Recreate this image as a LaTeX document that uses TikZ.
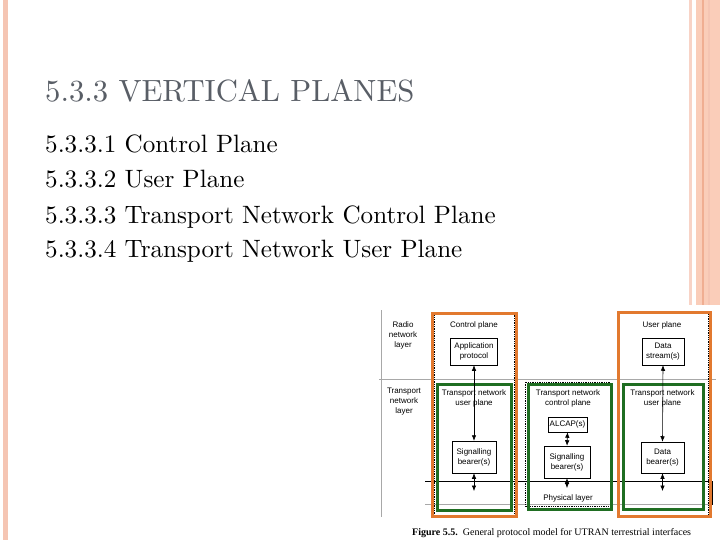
\documentclass[tikz,border=0pt]{standalone}
\usepackage{fontspec}
\newfontfamily\diagf{Liberation Sans}
\newfontfamily\capf{Liberation Serif}
\usetikzlibrary{arrows.meta}
\definecolor{pinkbar}{HTML}{F5C5B3}
\definecolor{pinklight}{HTML}{F8D3C6}
\definecolor{pinkmid}{HTML}{FACDB9}
\definecolor{pinkdark}{HTML}{F0AE92}
\definecolor{titlegray}{HTML}{595E66}
\definecolor{orangeb}{HTML}{E2792F}
\definecolor{greenb}{HTML}{1F6E22}
\definecolor{layergray}{HTML}{A8A8A8}
\newcommand{\bigtext}[2]{\scalebox{#1}{\fontsize{10}{12}\selectfont #2}}
\tikzset{
  dtext/.style={font=\diagf\fontsize{8}{10}\selectfont, align=center, inner sep=0pt},
  dbox/.style={dtext, draw=black, line width=0.5pt},
  dashbox/.style={draw=black, line width=0.6pt, dash pattern=on 1.3pt off 1pt},
  obox/.style={draw=orangeb, line width=3pt},
  gbox/.style={draw=greenb, line width=3pt},
  dbl/.style={line width=0.6pt, {Latex[length=5.5pt,width=4.5pt]}-{Latex[length=5.5pt,width=4.5pt]}},
  layerline/.style={draw=layergray, line width=0.6pt},
  slidetext/.style={anchor=base west, inner sep=0pt}
}
\begin{document}
\begin{tikzpicture}[x=1pt,y=-1pt]
\useasboundingbox (0,0) rectangle (720,540);
\fill[white] (0,0) rectangle (720,540);
% slide decorations
\fill[pinkbar] (3,0) rectangle (8,540);
\fill[pinklight] (689,0) rectangle (692,305);
\fill[pinkmid] (696,0) rectangle (720,305);
\fill[pinkdark] (701.5,0) rectangle (703.5,305);
\fill[pinkbar] (708,0) rectangle (710,305);
% slide text
\node[slidetext, text=titlegray] (title) at (45,102) {\bigtext{3.07}{5.3.3 VERTICAL PLANES}};
\node[slidetext] (i1) at (45,153) {\bigtext{2.51}{5.3.3.1 Control Plane}};
\node[slidetext] (i2) at (45,188) {\bigtext{2.51}{5.3.3.2 User Plane}};
\node[slidetext] (i3) at (45,223) {\bigtext{2.51}{5.3.3.3 Transport Network Control Plane}};
\node[slidetext] (i4) at (45,258) {\bigtext{2.51}{5.3.3.4 Transport Network User Plane}};
% layer lines
\draw[layerline] (381,310) -- (381,517);
\draw[layerline] (379,379) -- (716,379);
\draw[line width=0.6pt] (425,481) -- (712,481) -- (712,505);
\draw[layerline] (425,504.5) -- (712,504.5);
% dashed plane boxes
\draw[dashbox] (434.5,314.5) rectangle (514,515);
\draw[dashbox] (525,382) rectangle (610,506);
\draw[dashbox] (619.5,313.5) rectangle (708,515);
% green boxes
\draw[gbox] (437.5,384.5) rectangle (511.5,510.5);
\draw[gbox] (528.5,384.5) rectangle (611.5,509.5);
\draw[gbox] (623.5,384.5) rectangle (703,509.5);
% orange boxes
\draw[obox] (432.5,313) rectangle (516,516.5);
\draw[obox] (618,312) rectangle (710,516.5);
% layer labels
\node[dtext] (lr) at (403,335) {Radio\\network\\layer};
\node[dtext] (lt) at (404,402) {Transport\\network\\layer};
% plane labels
\node[dtext] (cp) at (474,325) {Control plane};
\node[dtext] (up) at (662,325) {User plane};
\node[dtext] (tnu1) at (474,398) {Transport network\\user plane};
\node[dtext] (tnc) at (568,398) {Transport network\\control plane};
\node[dtext] (tnu2) at (662.5,398) {Transport network\\user plane};
\node[dtext] (phy) at (568,498) {Physical layer};
% boxes
\node[dbox, minimum width=47pt, minimum height=27pt] (app) at (474,351.5) {Application\\protocol};
\node[dbox, minimum width=44pt, minimum height=32pt] (sig1) at (474,457) {Signalling\\bearer(s)};
\node[dbox, minimum width=39pt, minimum height=15pt] (alcap) at (567.5,424.5) {ALCAP(s)};
\node[dbox, minimum width=46pt, minimum height=32pt] (sig2) at (567,462) {Signalling\\bearer(s)};
\node[dbox, minimum width=42pt, minimum height=27pt] (ds) at (663,351.5) {Data\\stream(s)};
\node[dbox, minimum width=43pt, minimum height=31pt] (db) at (662.5,457.5) {Data\\bearer(s)};
\coordinate (e1) at (474,491);
\coordinate (e2) at (567,488);
\coordinate (e3) at (662.5,491);
% connectors
\draw[dbl] (app.south) -- (sig1.north);
\draw[dbl] (sig1.south) -- (e1);
\draw[dbl] (alcap.south) -- (sig2.north);
\draw[dbl] (sig2.south) -- (e2);
\draw[dbl] (ds.south) -- (db.north);
\draw[dbl] (db.south) -- (e3);
% caption
\node[anchor=base west, inner sep=0pt, font=\capf\fontsize{10}{11}\selectfont] (cap) at (412,535) {\textbf{Figure 5.5.}\ \ General protocol model for UTRAN terrestrial interfaces};
\end{tikzpicture}
\end{document}
